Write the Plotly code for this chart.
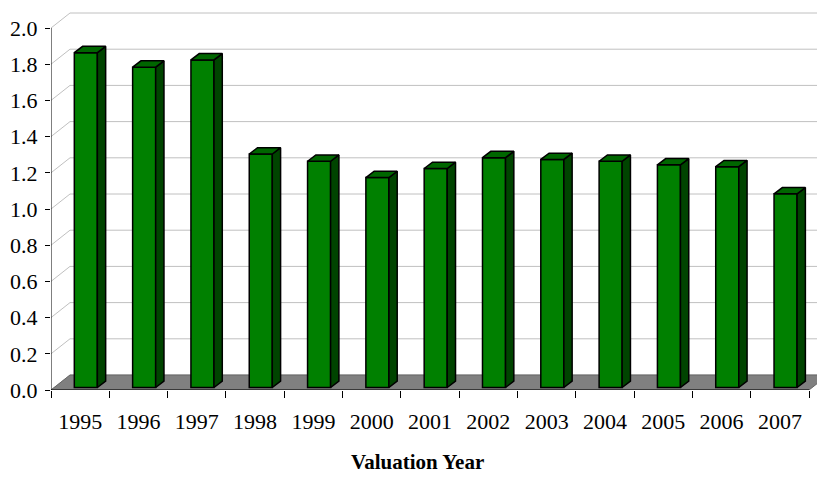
import plotly.graph_objects as go

# Valuation data
years = ["1995", "1996", "1997", "1998", "1999", "2000", "2001",
         "2002", "2003", "2004", "2005", "2006", "2007"]
values = [1.85, 1.77, 1.81, 1.29, 1.25, 1.16, 1.21, 1.27, 1.26, 1.25, 1.23, 1.22, 1.07]
y_ticks = [0.0, 0.2, 0.4, 0.6, 0.8, 1.0, 1.2, 1.4, 1.6, 1.8, 2.0]
y_tick_labels = ["%.1f" % t for t in y_ticks]

# pseudo-3D geometry (in axis units)
PX_X = 58.31          # pixels per category
PX_Y = 181.0          # pixels per unit value
WALL_DX = 19 / PX_X   # depth offset of the back wall
WALL_DY = 15 / PX_Y
BAR_DX = 8.3 / PX_X   # depth of each column
BAR_DY = 6.3 / PX_Y
BAR_BASE = 2.5 / PX_Y
BAR_L, BAR_R = 0.40, 0.795
N = len(years)
X_MAX = 766 / PX_X
Y_MAX = 2.0 + 18 / PX_Y

FRONT = "#008000"
SIDE = "#004400"
TOP = "#006600"
FONT = "Liberation Serif, Times New Roman, serif"

fig = go.Figure()

shapes = []
# back wall gridlines with their diagonal on the side wall
for t in y_ticks:
    shapes.append(dict(type="path", xref="x", yref="y", layer="below",
                       path=f"M 0,{t} L {WALL_DX},{t + WALL_DY} L {X_MAX},{t + WALL_DY}",
                       line=dict(color="#c0c0c0", width=1)))
# floor
shapes.append(dict(type="path", xref="x", yref="y", layer="below",
                   path=f"M 0,0 L {N},0 L {N + WALL_DX},{WALL_DY} L {X_MAX + 1},{WALL_DY} "
                        f"L {WALL_DX},{WALL_DY} Z",
                   fillcolor="#808080", line=dict(color="#666666", width=1)))
# axis lines
shapes.append(dict(type="line", xref="x", yref="y", x0=0, x1=0, y0=0, y1=2.0,
                   line=dict(color="black", width=1)))
shapes.append(dict(type="line", xref="x", yref="y", x0=0, x1=N, y0=0, y1=0,
                   line=dict(color="black", width=1)))

# front faces of the columns
fig.add_trace(go.Bar(
    x=[i + (BAR_L + BAR_R) / 2 for i in range(N)],
    y=values,
    base=BAR_BASE,
    width=BAR_R - BAR_L,
    marker=dict(color=FRONT, line=dict(color="black", width=1.5)),
    hoverinfo="skip",
    showlegend=False,
))

# side and top faces
for i, v in enumerate(values):
    xl = i + BAR_L
    xr = i + BAR_R
    y0 = BAR_BASE
    y1 = BAR_BASE + v
    fig.add_trace(go.Scatter(
        x=[xr, xr + BAR_DX, xr + BAR_DX, xr, xr],
        y=[y0, y0 + BAR_DY, y1 + BAR_DY, y1, y0],
        mode="lines", fill="toself", fillcolor=SIDE,
        line=dict(color="black", width=1.5),
        hoverinfo="skip", showlegend=False, xaxis="x", yaxis="y"))
    fig.add_trace(go.Scatter(
        x=[xl, xr, xr + BAR_DX, xl + BAR_DX, xl],
        y=[y1, y1, y1 + BAR_DY, y1 + BAR_DY, y1],
        mode="lines", fill="toself", fillcolor=TOP,
        line=dict(color="black", width=1.5),
        hoverinfo="skip", showlegend=False, xaxis="x", yaxis="y"))

# invisible trace so the boundary tick axis is drawn
fig.add_trace(go.Scatter(x=[0], y=[0], xaxis="x2", yaxis="y", mode="markers",
                         marker=dict(opacity=0), hoverinfo="skip", showlegend=False))

fig.update_layout(
    width=817, height=478,
    margin=dict(l=51, r=0, t=10, b=88),
    paper_bgcolor="white", plot_bgcolor="white",
    font=dict(family=FONT, size=22, color="black"),
    shapes=shapes,
    xaxis=dict(range=[0, X_MAX], tickvals=[i + 0.5 for i in range(N)], ticktext=years,
               ticks="outside", ticklen=7, tickcolor="rgba(0,0,0,0)",
               showgrid=False, zeroline=False, showline=False,
               ticklabelstandoff=5,
               tickfont=dict(family=FONT, size=22, color="black")),
    xaxis2=dict(range=[0, X_MAX], overlaying="x", anchor="y", side="bottom",
                tickvals=list(range(N + 1)), ticks="outside", ticklen=7, tickcolor="black",
                showticklabels=False, showgrid=False, zeroline=False, showline=False),
    yaxis=dict(range=[0, Y_MAX], tickvals=y_ticks, ticktext=y_tick_labels,
               ticks="outside", ticklen=5, tickcolor="black",
               showgrid=False, zeroline=False, showline=False,
               ticklabelstandoff=3,
               tickfont=dict(family=FONT, size=22, color="black")),
    annotations=[dict(text="<b>Valuation Year</b>", xref="paper", yref="paper",
                      x=(417 - 51) / 766, y=-(462 - 390) / 380,
                      showarrow=False, xanchor="center", yanchor="middle",
                      font=dict(family=FONT, size=21, color="black"))],
)

fig.write_html("out.html")
